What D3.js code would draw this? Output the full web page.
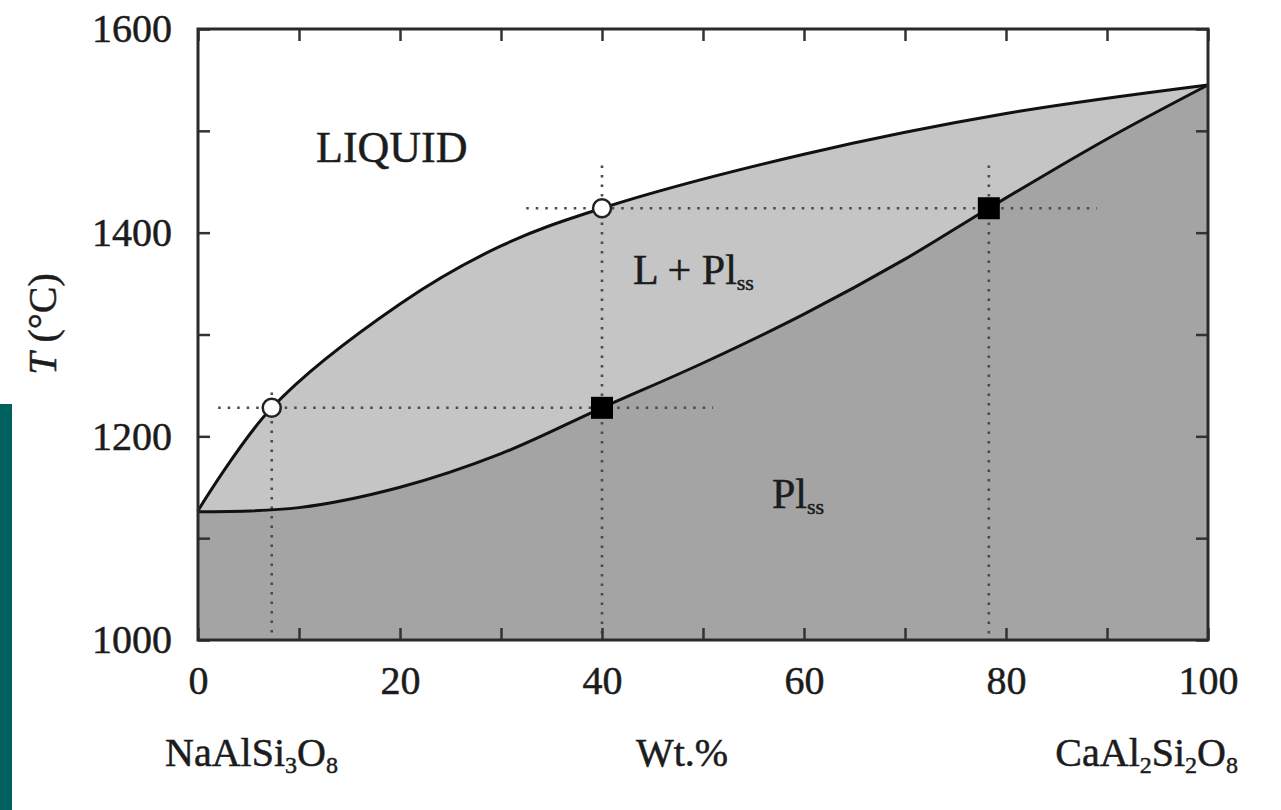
<!DOCTYPE html>
<html>
<head>
<meta charset="utf-8">
<script src="https://cdn.jsdelivr.net/npm/d3@7"></script>
<style>
  html, body { margin: 0; padding: 0; background: #fff; }
  svg { display: block; }
  text { font-family: "Liberation Serif", "DejaVu Serif", serif; fill: #1c1c1c; stroke: #1c1c1c; stroke-width: 0.5; }
</style>
</head>
<body>
<svg width="1281" height="810"></svg>
<script>
// plagioclase binary: liquidus / solidus
const liquidusX = [0, 7.3, 20, 30, 40, 60, 80, 100];
const liquidusT = [1127, 1228, 1330, 1387, 1424, 1477, 1517, 1545];
const solidusX = [0, 10, 20, 30, 40, 50, 60, 70, 78.3, 90, 100];
const solidusT = [1126, 1130, 1150, 1183, 1228, 1272, 1320, 1374, 1424, 1492, 1545];

// tie lines: liquid composition (open circle) and solid composition (black square)
const tieT = [1228, 1424];
const tieLiquid = [7.3, 40];
const tieSolid = [40, 78.3];
const tieGuideFrom = [2, 32.5];
const tieGuideTo = [51, 89];
const guideTop = [1243, 1466, 1466];

const xTicks = [0, 10, 20, 30, 40, 50, 60, 70, 80, 90, 100];
const xLabels = [0, 20, 40, 60, 80, 100];
const yTicks = [1000, 1100, 1200, 1300, 1400, 1500, 1600];
const yLabels = [1000, 1200, 1400, 1600];

const svg = d3.select("svg");

// teal strip on the left edge
svg.append("rect").attr("x", 0).attr("y", 404).attr("width", 12).attr("height", 406).attr("fill", "#00625f");

const x = d3.scaleLinear().domain([0, 100]).range([198, 1208]);
const y = d3.scaleLinear().domain([1000, 1600]).range([640, 29]);

const liq = liquidusX.map((d, i) => [d, liquidusT[i]]);
const sol = solidusX.map((d, i) => [d, solidusT[i]]);

const curve = d3.curveCatmullRom.alpha(0.5);
const area = d3.area().x(d => x(d[0])).y0(y(1000)).y1(d => y(d[1])).curve(curve);
const line = d3.line().x(d => x(d[0])).y(d => y(d[1])).curve(curve);

svg.append("path").attr("d", area(liq)).attr("fill", "#c5c5c5");
svg.append("path").attr("d", area(sol)).attr("fill", "#a4a4a4");

// dotted guide lines
const guides = svg.append("g").attr("stroke", "#4a4a4a").attr("stroke-width", 2.6)
  .attr("stroke-dasharray", "2.5,7").attr("fill", "none");
tieT.forEach((t, i) => {
  guides.append("line")
    .attr("x1", x(tieGuideFrom[i])).attr("x2", x(tieGuideTo[i]))
    .attr("y1", y(t)).attr("y2", y(t));
});
[tieLiquid[0], tieSolid[0], tieSolid[1]].forEach((c, i) => {
  guides.append("line")
    .attr("x1", x(c)).attr("x2", x(c))
    .attr("y1", y(guideTop[i])).attr("y2", y(1000));
});

svg.append("path").attr("d", line(liq)).attr("fill", "none").attr("stroke", "#111").attr("stroke-width", 3);
svg.append("path").attr("d", line(sol)).attr("fill", "none").attr("stroke", "#111").attr("stroke-width", 3);

// axes, ticks pointing inward
const axisStyle = g => {
  g.select(".domain").remove();
  g.selectAll(".tick line").attr("stroke", "#333").attr("stroke-width", 2.5);
  g.selectAll("text").attr("font-size", 40).attr("fill", "#1c1c1c")
    .attr("font-family", "Liberation Serif, serif");
};
svg.append("g").attr("transform", `translate(0,${y(1000)})`)
  .call(d3.axisBottom(x).tickValues(xTicks).tickSizeInner(-12).tickSizeOuter(0).tickPadding(26)
    .tickFormat(d => xLabels.includes(d) ? d : ""))
  .call(axisStyle);
svg.append("g").attr("transform", `translate(0,${y(1600)})`)
  .call(d3.axisTop(x).tickValues(xTicks).tickSizeInner(-12).tickSizeOuter(0).tickFormat(""))
  .call(axisStyle);
svg.append("g").attr("transform", `translate(${x(0)},0)`)
  .call(d3.axisLeft(y).tickValues(yTicks).tickSizeInner(-12).tickSizeOuter(0).tickPadding(26)
    .tickFormat(d => yLabels.includes(d) ? d : ""))
  .call(axisStyle);
svg.append("g").attr("transform", `translate(${x(100)},0)`)
  .call(d3.axisRight(y).tickValues(yTicks).tickSizeInner(-12).tickSizeOuter(0).tickFormat(""))
  .call(axisStyle);

// frame
svg.append("rect").attr("x", x(0)).attr("y", y(1600))
  .attr("width", x(100) - x(0)).attr("height", y(1000) - y(1600))
  .attr("fill", "none").attr("stroke", "#2a2a2a").attr("stroke-width", 3);

// tie-line end points
svg.selectAll(".liq-pt").data(tieT).join("circle")
  .attr("cx", (t, i) => x(tieLiquid[i])).attr("cy", t => y(t)).attr("r", 9)
  .attr("fill", "#fff").attr("stroke", "#222").attr("stroke-width", 2.5);
svg.selectAll(".sol-pt").data(tieT).join("rect")
  .attr("x", (t, i) => x(tieSolid[i]) - 11).attr("y", t => y(t) - 11)
  .attr("width", 22).attr("height", 22).attr("fill", "#000");

// region labels
svg.append("text").attr("x", 316).attr("y", 162).attr("font-size", 44).text("LIQUID");

const lp = svg.append("text").attr("x", 633).attr("y", 284).attr("font-size", 42);
lp.append("tspan").text("L + Pl");
lp.append("tspan").attr("font-size", 22).attr("dy", 6).text("ss");

const pl = svg.append("text").attr("x", 772).attr("y", 508).attr("font-size", 42);
pl.append("tspan").text("Pl");
pl.append("tspan").attr("font-size", 22).attr("dy", 6).text("ss");

// axis titles
const yt = svg.append("text").attr("transform", "translate(56,324) rotate(-90)")
  .attr("text-anchor", "middle").attr("font-size", 40);
yt.append("tspan").attr("font-style", "italic").text("T");
yt.append("tspan").text(" (°C)");

const ab = svg.append("text").attr("x", 165).attr("y", 766).attr("font-size", 40);
ab.append("tspan").text("NaAlSi");
ab.append("tspan").attr("font-size", 24).attr("dy", 7).text("3");
ab.append("tspan").attr("dy", -7).text("O");
ab.append("tspan").attr("font-size", 24).attr("dy", 7).text("8");

svg.append("text").attr("x", 682).attr("y", 766).attr("text-anchor", "middle")
  .attr("font-size", 40).text("Wt.%");

const an = svg.append("text").attr("x", 1238).attr("y", 766).attr("text-anchor", "end").attr("font-size", 40);
an.append("tspan").text("CaAl");
an.append("tspan").attr("font-size", 24).attr("dy", 7).text("2");
an.append("tspan").attr("dy", -7).text("Si");
an.append("tspan").attr("font-size", 24).attr("dy", 7).text("2");
an.append("tspan").attr("dy", -7).text("O");
an.append("tspan").attr("font-size", 24).attr("dy", 7).text("8");
</script>
</body>
</html>
